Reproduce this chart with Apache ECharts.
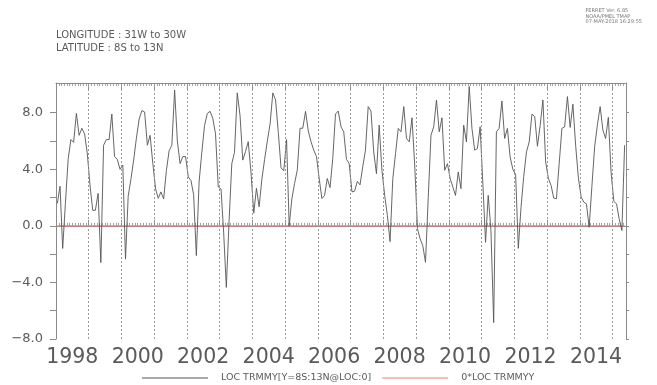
<!DOCTYPE html>
<html>
<head>
<meta charset="utf-8">
<script src="https://cdn.jsdelivr.net/npm/echarts@6/dist/echarts.min.js"></script>
<style>
  html, body { margin: 0; padding: 0; background: #ffffff; }
  #chart { width: 657px; height: 385px; }
</style>
</head>
<body>
<div id="chart"></div>
<script>
// Monthly area-averaged TRMM precipitation anomaly (LOC TRMMY), one array per year
const y1998 = [1.6, 2.8, -1.6, 1.6, 4.7, 6.1, 5.9, 7.95, 6.4, 6.9, 6.5, 5.1];
const y1999 = [2.8, 1.1, 1.1, 2.3, -2.6, 5.7, 6.1, 6.1, 7.9, 4.9, 4.7, 4.0];
const y2000 = [4.3, -2.35, 2.1, 3.3, 4.65, 6.2, 7.55, 8.15, 8.05, 5.7, 6.4, 4.4];
const y2001 = [2.6, 1.95, 2.4, 1.9, 3.9, 5.3, 5.7, 9.6, 6.0, 4.4, 4.9, 4.9];
const y2002 = [3.45, 3.2, 2.2, -2.1, 3.1, 5.2, 7.1, 7.95, 8.1, 7.6, 6.5, 2.75];
const y2003 = [2.6, -0.5, -4.35, 0.3, 4.4, 5.2, 9.4, 7.8, 4.65, 5.25, 5.95, 3.8];
const y2004 = [0.9, 2.65, 1.35, 3.3, 4.7, 6.0, 7.2, 9.4, 8.9, 6.6, 4.1, 3.9];
const y2005 = [6.1, 0.0, 1.9, 3.0, 3.95, 6.9, 6.9, 8.1, 6.7, 5.95, 5.35, 4.9];
const y2006 = [3.3, 1.93, 2.15, 3.35, 2.7, 4.75, 7.9, 8.12, 7.0, 6.65, 4.7, 4.4];
const y2007 = [2.4, 2.45, 3.15, 2.9, 4.17, 5.35, 8.43, 8.12, 5.23, 3.69, 7.12, 3.93];
const y2008 = [2.15, 0.73, -1.11, 3.34, 5.11, 6.89, 6.65, 8.43, 6.18, 5.94, 7.64, 4.3];
const y2009 = [-0.2, -0.92, -1.4, -2.58, 2.0, 6.41, 7.0, 8.9, 6.65, 7.64, 3.93, 4.4];
const y2010 = [3.34, 2.75, 2.15, 3.81, 2.63, 7.12, 5.94, 9.85, 6.89, 5.35, 5.47, 7.0];
const y2011 = [2.9, -1.16, 2.15, -0.3, -6.84, 6.65, 6.89, 8.83, 6.18, 6.89, 4.88, 4.0];
const y2012 = [3.62, -1.59, 1.3, 3.5, 5.23, 5.94, 7.9, 7.72, 5.63, 7.12, 8.9, 4.52];
const y2013 = [3.34, 2.86, 1.96, 1.92, 4.4, 6.89, 7.0, 9.14, 6.96, 8.6, 5.7, 3.4];
const y2014 = [2.04, 1.68, 1.56, -0.1, 2.8, 5.59, 7.12, 8.43, 6.77, 6.18, 7.67, 3.8];
const y2015 = [1.73, 1.56, 0.5, -0.33, 5.7];

const firstYear = 1998;
const yearlyValues = [y1998, y1999, y2000, y2001, y2002, y2003, y2004, y2005, y2006,
                      y2007, y2008, y2009, y2010, y2011, y2012, y2013, y2014, y2015];

// Axis annotation values
const yTickValues = [-8, -6, -4, -2, 0, 2, 4, 6, 8];
const yLabelValues = [-8, -4, 0, 4, 8];
const yearLabels = [1998, 2000, 2002, 2004, 2006, 2008, 2010, 2012, 2014];

const seriesName = 'LOC TRMMY[Y=8S:13N@LOC:0]';
const zeroName = '0*LOC TRMMYY';

// Time coordinates in ms (UTC); each monthly value sits mid-month
const monthStart = (y, m) => Date.UTC(y, m, 1);
const points = [];
const zeroPoints = [];
yearlyValues.forEach((vals, k) => {
  const yr = firstYear + k;
  vals.forEach((v, m) => {
    const t = (monthStart(yr, m) + monthStart(yr, m + 1)) / 2;
    points.push([t, v]);
    zeroPoints.push([t, 0 * v]);
  });
});

const lastYear = firstYear + yearlyValues.length - 1;
const lastMonthCount = yearlyValues[yearlyValues.length - 1].length;
const tMin = monthStart(firstYear, 0);
const tMax = monthStart(lastYear, lastMonthCount);

const monthTicks = [];
for (let y = firstYear; y <= lastYear; y++) {
  for (let m = 0; m < 12; m++) {
    const t = monthStart(y, m);
    if (t >= tMin && t <= tMax) monthTicks.push(t);
  }
}
const yearTicks = [];
for (let y = firstYear; y <= lastYear; y++) yearTicks.push(monthStart(y, 0));
const yearLines = yearTicks.filter(t => t > tMin && t < tMax);
const labelTimes = yearLabels.map(y => Date.UTC(y, 6, 1));

const AXIS = '#8a8a8a';
const TEXT = '#5a5a5a';
const FONT = 'DejaVu Sans';
const LINE = '#555555';
const RED = '#f07c7c';

const chart = echarts.init(document.getElementById('chart'), null, { renderer: 'canvas' });

const xBase = {
  type: 'value', min: tMin, max: tMax, gridIndex: 0, scale: true,
  splitLine: { show: false }, axisPointer: { show: false }
};

chart.setOption({
  animation: false,
  backgroundColor: '#ffffff',
  grid: { left: 56, top: 83, width: 570, height: 256, containLabel: false },
  graphic: [
    { type: 'text', left: 56, top: 30,
      style: { text: 'LONGITUDE : 31W to 30W', fill: TEXT, font: '10px "DejaVu Sans"' } },
    { type: 'text', left: 56, top: 43,
      style: { text: 'LATITUDE : 8S to 13N', fill: TEXT, font: '10px "DejaVu Sans"' } },
    { type: 'text', right: 15, top: 8,
      style: { text: 'FERRET Ver. 6.85\nNOAA/PMEL TMAP\n07-MAY-2018 16:29:55',
               fill: '#777', font: '5px "DejaVu Sans"', align: 'right', lineHeight: 5.5 } }
  ],
  legend: {
    left: 142, top: 373, padding: 0, itemGap: 11, itemWidth: 66, itemHeight: 1,
    icon: 'rect', selectedMode: false,
    textStyle: { color: TEXT, fontSize: 9.5, fontFamily: FONT, padding: [0, 0, 0, 8] },
    data: [
      { name: seriesName, itemStyle: { color: LINE } },
      { name: zeroName, itemStyle: { color: RED } }
    ]
  },
  xAxis: [
    Object.assign({}, xBase, {
      position: 'bottom',
      axisLine: { show: true, lineStyle: { color: AXIS, width: 1 } },
      axisTick: { show: true, inside: true, length: 3, customValues: monthTicks,
                  lineStyle: { color: AXIS, width: 0.8 } },
      axisLabel: { show: true, customValues: labelTimes, margin: 8,
                   color: TEXT, fontSize: 20.5, fontFamily: FONT,
                   formatter: v => String(new Date(v).getUTCFullYear()) }
    }),
    Object.assign({}, xBase, {
      position: 'bottom',
      axisLine: { show: false },
      axisTick: { show: true, inside: true, length: 6, customValues: yearTicks,
                  lineStyle: { color: AXIS, width: 1 } },
      axisLabel: { show: false }
    }),
    Object.assign({}, xBase, {
      position: 'top',
      axisLine: { show: true, lineStyle: { color: AXIS, width: 1 } },
      axisTick: { show: true, inside: true, length: 3, customValues: monthTicks,
                  lineStyle: { color: AXIS, width: 0.8 } },
      axisLabel: { show: false }
    }),
    Object.assign({}, xBase, {
      position: 'top',
      axisLine: { show: false },
      axisTick: { show: true, inside: true, length: 6, customValues: yearTicks,
                  lineStyle: { color: AXIS, width: 1 } },
      axisLabel: { show: false }
    })
  ],
  yAxis: [
    {
      type: 'value', min: -8, max: 10.1, position: 'left',
      splitLine: { show: false },
      axisLine: { show: true, lineStyle: { color: AXIS, width: 1 } },
      axisTick: { show: true, inside: false, length: 6, customValues: yTickValues,
                  lineStyle: { color: AXIS, width: 1 } },
      axisLabel: { show: true, customValues: yLabelValues, margin: 13,
                   color: TEXT, fontSize: 13, fontFamily: FONT,
                   formatter: v => v.toFixed(1).replace('-', '\u2212') }
    },
    {
      type: 'value', min: -8, max: 10.1, position: 'right',
      splitLine: { show: false },
      axisLine: { show: true, lineStyle: { color: AXIS, width: 1 } },
      axisTick: { show: true, inside: false, length: 3, customValues: yTickValues,
                  lineStyle: { color: AXIS, width: 1 } },
      axisLabel: { show: false }
    }
  ],
  series: [
    {
      name: zeroName, type: 'line', xAxisIndex: 0, yAxisIndex: 0,
      data: zeroPoints, showSymbol: false, symbol: 'none',
      lineStyle: { color: RED, width: 1.2 },
      itemStyle: { color: RED },
      markLine: {
        silent: true, symbol: 'none', label: { show: false },
        lineStyle: { color: '#9a9a9a', type: [2, 2], width: 1 },
        data: yearLines.map(t => ({ xAxis: t }))
      },
      z: 2
    },
    {
      name: seriesName, type: 'line', xAxisIndex: 0, yAxisIndex: 0,
      data: points, showSymbol: false, symbol: 'none',
      lineStyle: { color: LINE, width: 0.9 },
      itemStyle: { color: LINE },
      z: 3
    }
  ]
});
</script>
</body>
</html>
